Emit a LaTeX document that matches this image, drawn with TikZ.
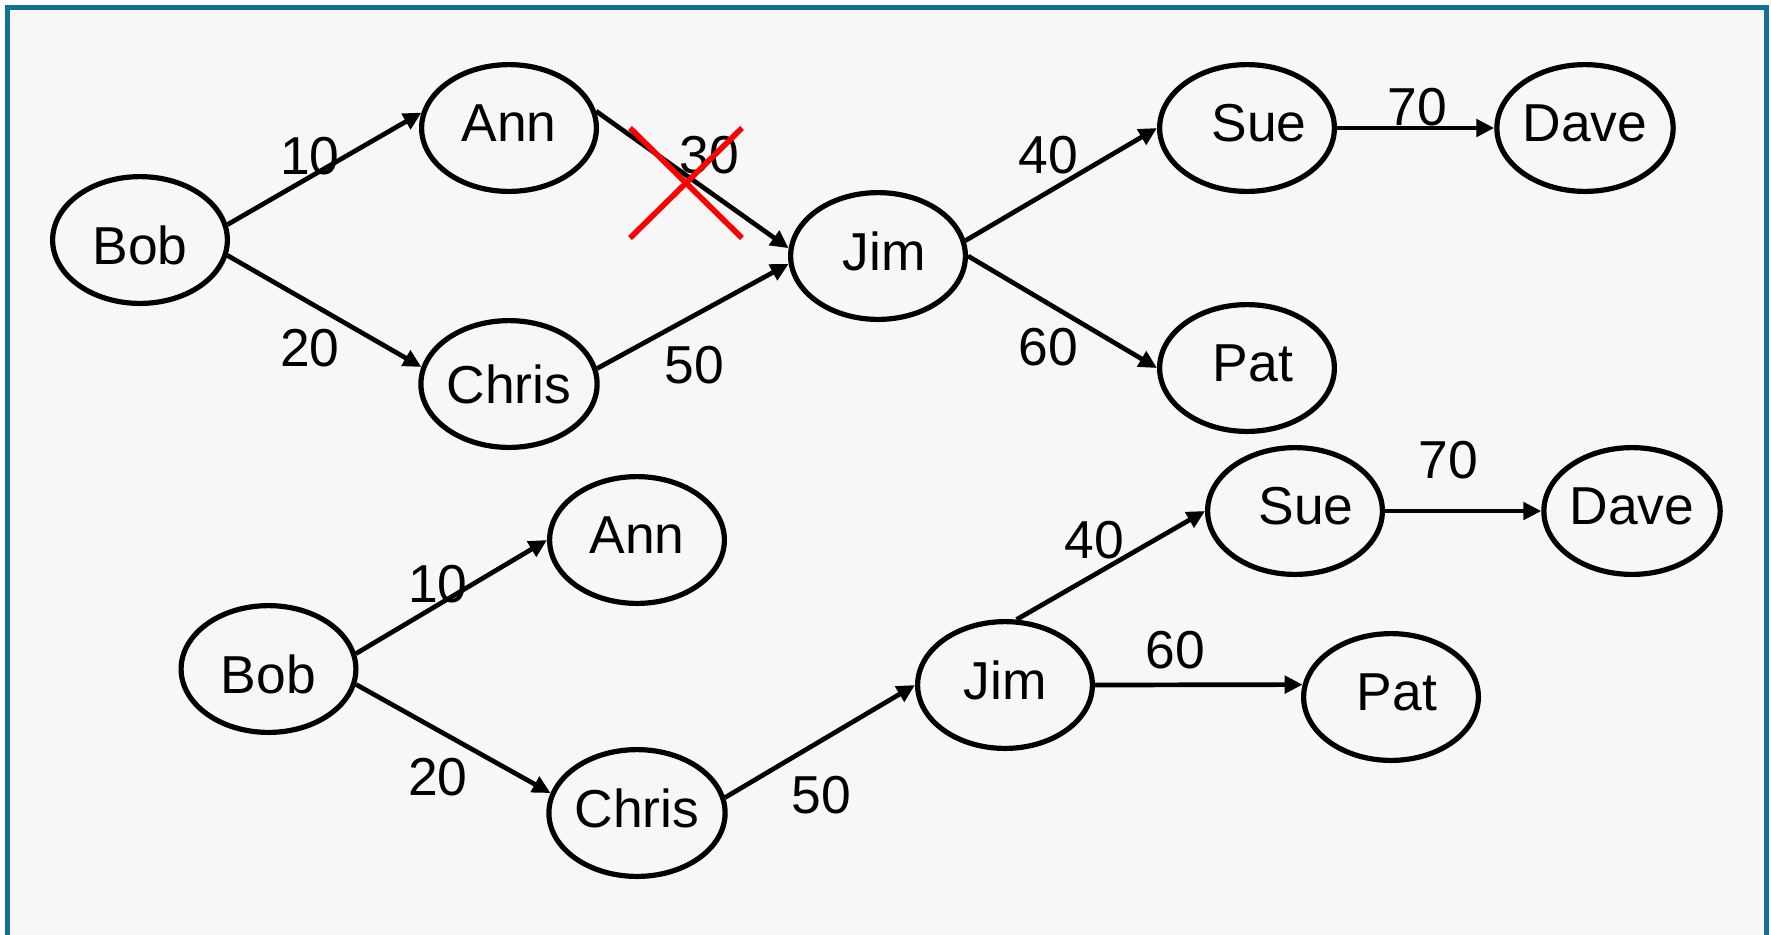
\documentclass[tikz,border=0pt]{standalone}
\usepackage{fontspec}
\setmainfont{Liberation Sans}
\usetikzlibrary{arrows.meta,shapes.geometric}
\definecolor{framec}{RGB}{16,112,152}
\definecolor{bgc}{RGB}{247,247,247}
\begin{document}
\begin{tikzpicture}[x=0.5pt,y=-0.5pt,
  person/.style={ellipse,draw=black,line width=2.6pt,minimum width=87.4pt,minimum height=63.4pt,inner sep=0pt,text depth=5pt,font=\fontsize{26.7}{32}\selectfont},
  lowtext/.style={text depth=0pt,text height=24pt},
  midtext/.style={text depth=0pt},
  link/.style={line width=2.35pt,-{Triangle[length=9pt,width=8.6pt]}},
  wt/.style={font=\fontsize{26.7}{32}\selectfont,inner sep=0pt},
  cross/.style={red,line width=2.8pt}]
\useasboundingbox (0,0) rectangle (1771,934);
\clip (0,0) rectangle (1771,934);
\draw[framec,line width=2.5pt,fill=bgc] (7.5,7) rectangle (1766.5,960);

% top diagram
\node[person,lowtext] (b1) at (140,240) {Bob\hspace{8pt}};
\node[person] (a1) at (509,128) {Ann\hspace{12pt}};
\node[person,midtext] (c1) at (509,384) {Chris\hspace{12pt}};
\node[person] (j1) at (878,256) {\hspace{6pt}Jim};
\node[person] (s1) at (1247,128) {\hspace{12pt}Sue};
\node[person] (d1) at (1585,128) {Dave\hspace{6pt}};
\node[person] (p1) at (1247,368) {\hspace{6pt}Pat};

\draw[link] (b1.10) -- (a1.170);
\draw[link] (b1.-10) -- (c1.169);
\draw[link] (a1.11) -- (j1.175);
\draw[link] (c1.10) -- (j1.185);
\draw[link] (j1.10) -- (s1.west);
\draw[link] (j1.east) -- (p1.west);
\draw[link] (s1.east) -- (d1.west);

\node[wt] (w10a) at (310,156) {10};
\node[wt] (w20a) at (310,348) {20};
\node[wt] (w30a) at (709,155) {30};
\node[wt] (w50a) at (694,365) {50};
\node[wt] (w40a) at (1048,155) {40};
\node[wt] (w60a) at (1048,347) {60};
\node[wt] (w70a) at (1417,107) {70};

\coordinate (x1) at (630,128);
\coordinate (x2) at (742,238);
\coordinate (x3) at (742,128);
\coordinate (x4) at (630,238);
\draw[cross] (x1) -- (x2);
\draw[cross] (x3) -- (x4);

% bottom diagram
\node[person,lowtext] (b2) at (268.5,669) {Bob\hspace{6pt}};
\node[person] (a2) at (637,540) {Ann\hspace{12pt}};
\node[person] (c2) at (637,813) {Chris\hspace{10pt}};
\node[person] (j2) at (1005,685) {Jim};
\node[person] (s2) at (1295,511) {\hspace{11pt}Sue};
\node[person] (d2) at (1632,511) {Dave};
\node[person] (p2) at (1391,697) {\hspace{6pt}Pat};

\draw[link] (b2.10) -- (a2.west);
\draw[link] (b2.-10) -- (c2.167);
\draw[link] (c2.10) -- (j2.west);
\draw[link] (j2.80) -- (s2.west);
\draw[link] (j2.east) -- (p2.172);
\draw[link] (s2.east) -- (d2.west);

\node[wt] (w10b) at (438,584) {10};
\node[wt] (w20b) at (438,777) {20};
\node[wt] (w50b) at (821,795) {50};
\node[wt] (w40b) at (1094,540) {40};
\node[wt] (w60b) at (1175,650) {60};
\node[wt] (w70b) at (1448,460) {70};
\end{tikzpicture}
\end{document}
